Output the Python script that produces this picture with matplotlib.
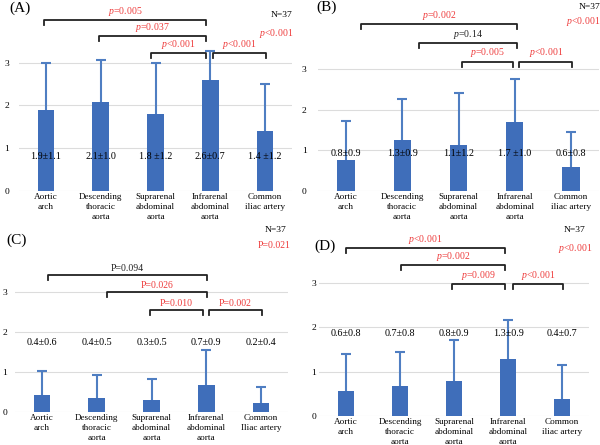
import matplotlib
matplotlib.use('Agg')
import matplotlib.pyplot as plt
import numpy as np

plt.rcParams['font.family'] = ['Liberation Serif', 'DejaVu Serif']
plt.rcParams['mathtext.fontset'] = 'custom'
plt.rcParams['mathtext.rm'] = 'Liberation Serif'
plt.rcParams['mathtext.it'] = 'Liberation Serif:italic'

# segments (x axis)
sites = ['Aortic\narch', 'Descending\nthoracic\naorta', 'Suprarenal\nabdominal\naorta',
         'Infrarenal\nabdominal\naorta', 'Common\niliac artery']
sites_c = sites[:4] + ['Common\nIliac artery']

# bar heights and upper error
mean_a = [1.89, 2.09, 1.80, 2.60, 1.40]
err_a = [1.11, 0.97, 1.19, 0.67, 1.09]
mean_b = [0.75, 1.25, 1.12, 1.69, 0.58]
err_b = [0.98, 1.01, 1.28, 1.06, 0.88]
mean_c = [0.43, 0.35, 0.29, 0.68, 0.22]
err_c = [0.59, 0.58, 0.54, 0.88, 0.40]
mean_d = [0.56, 0.68, 0.79, 1.29, 0.39]
err_d = [0.83, 0.76, 0.93, 0.87, 0.75]

# value labels
lab_a = ['1.9\u00b11.1', '2.1\u00b11.0', '1.8 \u00b11.2', '2.6\u00b10.7', '1.4 \u00b11.2']
lab_b = ['0.8\u00b10.9', '1.3\u00b10.9', '1.1\u00b11.2', '1.7 \u00b11.0', '0.6\u00b10.8']
lab_c = ['0.4\u00b10.6', '0.4\u00b10.5', '0.3\u00b10.5', '0.7\u00b10.9', '0.2\u00b10.4']
lab_d = ['0.6\u00b10.8', '0.7\u00b10.8', '0.8\u00b10.9', '1.3\u00b10.9', '0.4\u00b10.7']

# pairwise p values (text, significant?)
p_a = [('$p$=0.005', True), ('$p$=0.037', True), ('$p$<0.001', True), ('$p$<0.001', True)]
p_b = [('$p$=0.002', True), ('$p$=0.14', False), ('$p$=0.005', True), ('$p$<0.001', True)]
p_c = [('P=0.094', False), ('P=0.026', True), ('P=0.010', True), ('P=0.002', True)]
p_d = [('$p$<0.001', True), ('$p$=0.002', True), ('$p$=0.009', True), ('$p$<0.001', True)]
overall = ['$p$<0.001', '$p$<0.001', 'P=0.021', '$p$<0.001']

BAR = '#3F6EBA'
ERR = '#4F7EC2'
RED = '#EE3B3B'
W, H = 600, 445

fig = plt.figure(figsize=(6, 4.45), dpi=100)


def px(x, y):
    return x / W, 1 - y / H


def panel(x0, dx, y0, unit, ytop, ypad, means, errs, labs, lab_y, names, pvals, spans,
          title, title_xy, n_xy, ov_xy, ov_text):
    ax = fig.add_axes([(x0 - dx / 2) / W, (H - y0) / H, dx * 5 / W, ytop * unit / H])
    x = np.arange(5)
    means = np.array(means)
    tops = means + np.array(errs)
    ax.bar(x, means, width=0.31, color=BAR, zorder=3)
    # upper error bars only
    ax.vlines(x, means, tops, color=ERR, lw=1.5, zorder=2)
    ax.plot(x, tops, ls='', marker='_', markersize=7.5, mew=1.5, color=ERR, zorder=2)
    for yy in [0, 1, 2, 3]:
        ax.axhline(yy, color='#DCDCDC', lw=0.8, zorder=1)
    ax.set_xlim(-0.5, 4.5)
    ax.set_ylim(0, ytop)
    for s in ax.spines.values():
        s.set_visible(False)
    ax.set_yticks([0, 1, 2, 3])
    ax.tick_params(axis='y', length=0, pad=ypad, labelsize=6.8)
    ax.set_xticks(x)
    ax.set_xticklabels(names, fontsize=6.6, linespacing=1.3)
    ax.tick_params(axis='x', length=0, pad=1.5)
    for i in range(5):
        ax.text(i, lab_y, labs[i], ha='center', va='center', fontsize=7.3, zorder=5)
    drop = 5.0 / unit
    for (txt, sig), (a, b, yb) in zip(pvals, spans):
        ax.plot([a, a, b, b], [yb - drop, yb, yb, yb - drop], color='#222222', lw=1.3,
                clip_on=False, zorder=5)
        ax.annotate(txt, ((a + b) / 2, yb), xytext=(0, 1.5), textcoords='offset points',
                    ha='center', va='bottom', fontsize=7,
                    color=RED if sig else '#222222', annotation_clip=False)
    fig.text(*px(*title_xy), title, ha='center', va='center', fontsize=11)
    fig.text(*px(*n_xy), 'N=37', ha='center', va='center', fontsize=6.8)
    fig.text(*px(*ov_xy), ov_text, ha='center', va='center', fontsize=7, color=RED)
    return ax


panel(46, 54.75, 191, 42.8, 4.4, 7, mean_a, err_a, lab_a, 0.8, sites, p_a,
      [(-0.04, 2.92, 4.0), (0.97, 2.92, 3.61), (1.92, 2.92, 3.22), (3.05, 4.02, 3.22)],
      '(A)', (20, 8), (282, 15), (276, 33), overall[0])
panel(346, 56.25, 191, 40.7, 4.65, 8, mean_b, err_b, lab_b, 0.91, sites, p_b,
      [(0.27, 3.04, 4.1), (1.3, 3.04, 3.63), (2.06, 2.97, 3.18), (3.08, 4.02, 3.18)],
      '(B)', (327, 7), (590, 7), (583, 22), overall[1])
panel(42, 54.75, 412, 40, 4.6, 5.5, mean_c, err_c, lab_c, 1.73, sites_c, p_c,
      [(0.11, 3.01, 3.42), (1.19, 3.01, 2.99), (1.97, 2.94, 2.56), (3.05, 4.02, 2.56)],
      '(C)', (17, 240), (276, 230), (274, 246), overall[2])
panel(346, 54, 416, 44.3, 4.3, 2, mean_d, err_d, lab_d, 1.86, sites, p_d,
      [(0.0, 2.94, 3.79), (1.02, 2.94, 3.40), (1.96, 2.94, 2.98), (3.09, 4.02, 2.98)],
      '(D)', (325, 246), (575, 230), (575, 249), overall[3])

fig.savefig('out.png', dpi=100)
